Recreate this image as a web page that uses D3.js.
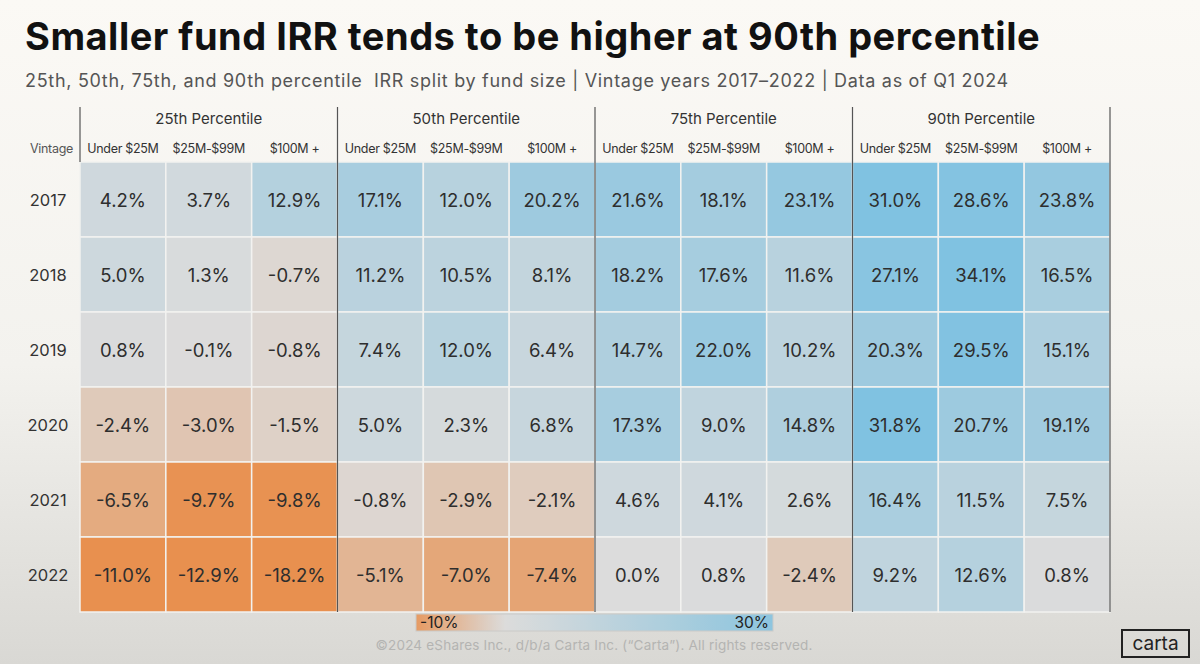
<!DOCTYPE html>
<html>
<head>
<meta charset="utf-8">
<script src="https://cdn.jsdelivr.net/npm/d3@7"></script>
<style>
  html, body { margin: 0; padding: 0; }
  body { width: 1200px; height: 664px; overflow: hidden; }
  svg { display: block; font-family: Inter, "Noto Sans", sans-serif; }
</style>
</head>
<body>
<svg id="chart" width="1200" height="664"></svg>
<script>
  // chart values
  var groups = ['25th Percentile', '50th Percentile', '75th Percentile', '90th Percentile'];
  var sizes = ['Under $25M', '$25M-$99M', '$100M +'];
  var vintages = ['2017', '2018', '2019', '2020', '2021', '2022'];

  // one row per vintage, one value per fund size
  var p25 = [[4.2, 3.7, 12.9], [5.0, 1.3, -0.7], [0.8, -0.1, -0.8], [-2.4, -3.0, -1.5], [-6.5, -9.7, -9.8], [-11.0, -12.9, -18.2]];
  var p50 = [[17.1, 12.0, 20.2], [11.2, 10.5, 8.1], [7.4, 12.0, 6.4], [5.0, 2.3, 6.8], [-0.8, -2.9, -2.1], [-5.1, -7.0, -7.4]];
  var p75 = [[21.6, 18.1, 23.1], [18.2, 17.6, 11.6], [14.7, 22.0, 10.2], [17.3, 9.0, 14.8], [4.6, 4.1, 2.6], [0.0, 0.8, -2.4]];
  var p90 = [[31.0, 28.6, 23.8], [27.1, 34.1, 16.5], [20.3, 29.5, 15.1], [31.8, 20.7, 19.1], [16.4, 11.5, 7.5], [9.2, 12.6, 0.8]];
  var legendTicks = [-10, 30];

  var series = [p25, p50, p75, p90];

  var svg = d3.select('#chart');
  var defs = svg.append('defs');

  // screen-capture style background: light at the top, greyer toward the bottom
  var bg = defs.append('linearGradient').attr('id', 'bg').attr('x1', 0).attr('y1', 0).attr('x2', 0).attr('y2', 1);
  bg.append('stop').attr('offset', '0%').attr('stop-color', '#fbf9f5');
  bg.append('stop').attr('offset', '55%').attr('stop-color', '#f3f2ee');
  bg.append('stop').attr('offset', '100%').attr('stop-color', '#d9d8d4');
  svg.append('rect').attr('width', 1200).attr('height', 664).attr('fill', 'url(#bg)');

  var color = d3.scaleLinear()
    .domain([-10, 0, 30])
    .range(['#e8904f', '#dcdcdc', '#80c2e1'])
    .clamp(true);

  var x = d3.scaleBand().domain(groups).range([80, 1110]);
  var xs = d3.scaleBand().domain(sizes).range([0, x.bandwidth()]);
  var y = d3.scaleBand().domain(vintages).range([162, 612]);

  // title block
  svg.append('text')
    .attr('x', 25).attr('y', 50)
    .attr('font-size', 38).attr('font-weight', 700).attr('fill', '#111')
    .attr('letter-spacing', 0.5)
    .text('Smaller fund IRR tends to be higher at 90th percentile');
  svg.append('text')
    .attr('x', 25).attr('y', 87)
    .attr('font-size', 18).attr('fill', '#555')
    .attr('letter-spacing', 0.7)
    .text('25th, 50th, 75th, and 90th percentile\u00a0\u00a0IRR split by fund size\u00a0|\u00a0Vintage years 2017\u20132022\u00a0|\u00a0Data as of Q1 2024');

  // cells
  var cells = [];
  series.forEach(function(rows, g) {
    rows.forEach(function(row, r) {
      row.forEach(function(v, s) {
        cells.push({ group: groups[g], size: sizes[s], vintage: vintages[r], value: v });
      });
    });
  });

  var cell = svg.append('g').selectAll('g.cell')
    .data(cells)
    .join('g')
    .attr('class', 'cell')
    .attr('transform', function(d) {
      return 'translate(' + (x(d.group) + xs(d.size)) + ',' + y(d.vintage) + ')';
    });

  cell.append('rect')
    .attr('width', xs.bandwidth())
    .attr('height', y.bandwidth())
    .attr('fill', function(d) { return color(d.value); })
    .attr('stroke', '#f2f2f0')
    .attr('stroke-width', 1.5);

  cell.append('text')
    .attr('x', xs.bandwidth() / 2)
    .attr('y', y.bandwidth() / 2 + 7)
    .attr('text-anchor', 'middle')
    .attr('font-size', 18.5)
    .attr('fill', '#2e2e2e')
    .text(function(d) { return d.value.toFixed(1) + '%'; });

  // column headers
  svg.append('g').selectAll('text')
    .data(groups)
    .join('text')
    .attr('x', function(d) { return x(d) + x.bandwidth() / 2; })
    .attr('y', 124)
    .attr('text-anchor', 'middle')
    .attr('font-size', 15).attr('fill', '#333')
    .text(function(d) { return d; });

  var sub = [];
  groups.forEach(function(g) { sizes.forEach(function(s) { sub.push({ group: g, size: s }); }); });
  svg.append('g').selectAll('text')
    .data(sub)
    .join('text')
    .attr('x', function(d) { return x(d.group) + xs(d.size) + xs.bandwidth() / 2; })
    .attr('y', 153)
    .attr('text-anchor', 'middle')
    .attr('font-size', 12.5).attr('fill', '#333')
    .attr('letter-spacing', -0.3)
    .text(function(d) { return d.size; });

  svg.append('text')
    .attr('x', 73).attr('y', 153)
    .attr('text-anchor', 'end')
    .attr('font-size', 12.5).attr('fill', '#555')
    .attr('letter-spacing', -0.3)
    .text('Vintage');

  // row labels
  svg.append('g').selectAll('text')
    .data(vintages)
    .join('text')
    .attr('x', 48)
    .attr('y', function(d) { return y(d) + y.bandwidth() / 2 + 6; })
    .attr('text-anchor', 'middle')
    .attr('font-size', 16.5).attr('fill', '#333')
    .text(function(d) { return d; });

  // group dividers
  var edges = groups.map(function(g) { return x(g); }).concat([x.range()[1]]);
  svg.append('g').selectAll('line')
    .data(edges)
    .join('line')
    .attr('x1', function(d) { return d; }).attr('x2', function(d) { return d; })
    .attr('y1', 107)
    .attr('y2', function(d, i) { return i === 0 ? y.range()[0] : y.range()[1]; })
    .attr('stroke', '#555').attr('stroke-width', 1.2);

  // legend
  var lx = d3.scaleLinear().domain(legendTicks).range([416, 773]);
  var lg = defs.append('linearGradient').attr('id', 'legend');
  d3.range(0, 1.0001, 0.125).forEach(function(t) {
    var v = legendTicks[0] + t * (legendTicks[1] - legendTicks[0]);
    lg.append('stop').attr('offset', (t * 100) + '%').attr('stop-color', color(v));
  });
  svg.append('rect')
    .attr('x', lx(legendTicks[0])).attr('y', 614)
    .attr('width', lx(legendTicks[1]) - lx(legendTicks[0])).attr('height', 17)
    .attr('fill', 'url(#legend)').attr('opacity', 0.85)
    .attr('stroke', '#c8c8c6').attr('stroke-width', 1);
  svg.append('g').selectAll('text')
    .data(legendTicks)
    .join('text')
    .attr('x', function(d, i) { return lx(d) + (i === 0 ? 4 : -4); })
    .attr('y', 628)
    .attr('text-anchor', function(d, i) { return i === 0 ? 'start' : 'end'; })
    .attr('font-size', 15.5).attr('fill', '#222')
    .text(function(d) { return d + '%'; });

  // footer
  svg.append('text')
    .attr('x', 594).attr('y', 650)
    .attr('text-anchor', 'middle')
    .attr('font-size', 13.5).attr('fill', '#b4b4b2')
    .attr('letter-spacing', 0.2)
    .text('\u00a92024 eShares Inc., d/b/a Carta Inc. (\u201cCarta\u201d). All rights reserved.');

  svg.append('rect')
    .attr('x', 1122).attr('y', 630).attr('width', 67).attr('height', 27)
    .attr('fill', 'none').attr('stroke', '#222').attr('stroke-width', 2);
  svg.append('text')
    .attr('x', 1155.5).attr('y', 649.5)
    .attr('text-anchor', 'middle')
    .attr('font-size', 19).attr('fill', '#222')
    .text('carta');
</script>
</body>
</html>
